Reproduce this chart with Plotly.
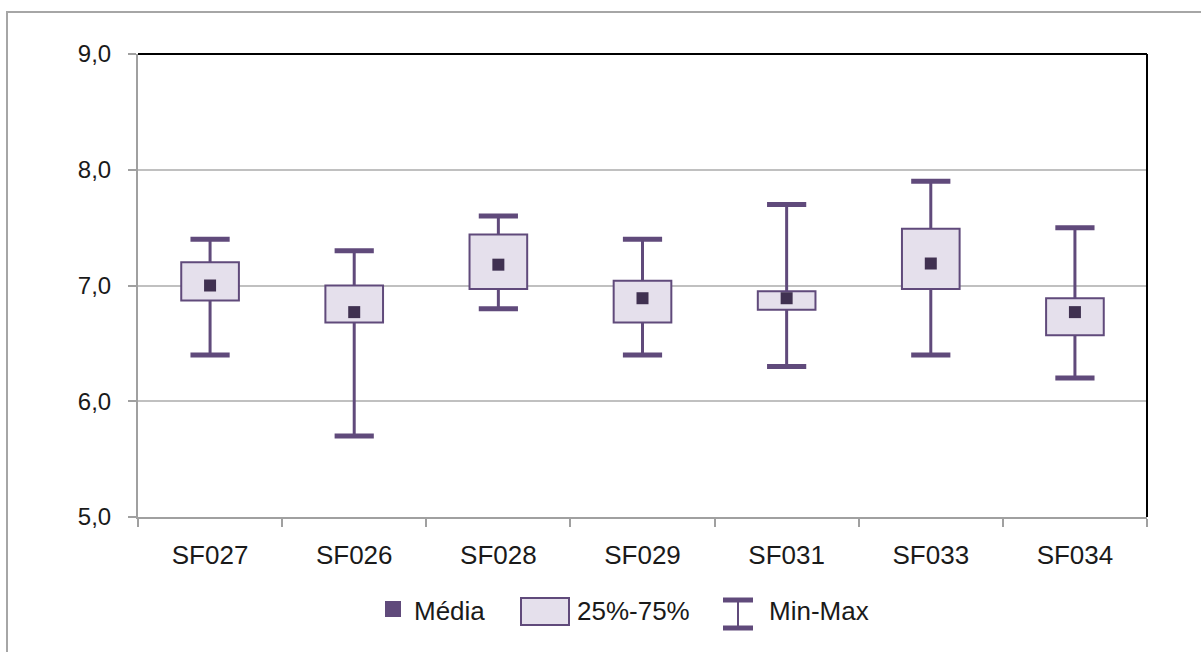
import plotly.graph_objects as go

# Sample statistics per site
sites = ["SF027", "SF026", "SF028", "SF029", "SF031", "SF033", "SF034"]
minimum = [6.4, 5.7, 6.8, 6.4, 6.3, 6.4, 6.2]
q25 = [6.87, 6.68, 6.97, 6.68, 6.79, 6.97, 6.57]
q75 = [7.2, 7.0, 7.44, 7.04, 6.95, 7.49, 6.89]
maximum = [7.4, 7.3, 7.6, 7.4, 7.7, 7.9, 7.5]
mean = [7.0, 6.77, 7.18, 6.89, 6.89, 7.19, 6.77]

y_ticks = [5.0, 6.0, 7.0, 8.0, 9.0]

PURPLE = "#604a7b"
DARK = "#403151"
LAVENDER = "#e5e0ec"
FONT = "Liberation Sans, Arial, sans-serif"
TXT = "#1a1a1a"

W, H = 1201, 652
L, R, T, B = 138, 54, 54, 135
PW, PH = W - L - R, H - T - B


def px(x):
    return (x - L) / PW


def py(y):
    return (H - B - y) / PH


fig = go.Figure()

# Interquartile boxes
fig.add_trace(go.Bar(
    x=sites,
    y=[hi - lo for lo, hi in zip(q25, q75)],
    base=q25,
    width=0.4,
    marker=dict(color=LAVENDER, line=dict(color=PURPLE, width=2)),
    showlegend=False,
    hoverinfo="skip",
))

# Whisker stems (max -> box top, box bottom -> min)
wx, wy = [], []
for s, lo, q1, q3, hi in zip(sites, minimum, q25, q75, maximum):
    wx += [s, s, None, s, s, None]
    wy += [hi, q3, None, q1, lo, None]
fig.add_trace(go.Scatter(
    x=wx, y=wy, mode="lines",
    line=dict(color=PURPLE, width=3),
    showlegend=False, hoverinfo="skip",
))

# Whisker caps
fig.add_trace(go.Scatter(
    x=sites + sites,
    y=maximum + minimum,
    mode="markers",
    marker=dict(symbol="line-ew", size=28, line=dict(color=PURPLE, width=5)),
    showlegend=False, hoverinfo="skip",
))

# Means
fig.add_trace(go.Scatter(
    x=sites, y=mean, mode="markers",
    marker=dict(symbol="square", size=12, color=DARK),
    showlegend=False,
))

shapes = [
    # top and right frame of the plot area
    dict(type="line", xref="paper", yref="paper", x0=0, x1=1, y0=1, y1=1,
         line=dict(color="#000000", width=2)),
    dict(type="line", xref="paper", yref="paper", x0=1, x1=1, y0=0, y1=1,
         line=dict(color="#000000", width=2)),
    # outer chart border
    dict(type="rect", xref="paper", yref="paper",
         x0=px(7), x1=px(1260), y0=py(700), y1=py(12),
         line=dict(color="#a6a6a6", width=2), layer="below"),
    # legend: mean swatch
    dict(type="rect", xref="paper", yref="paper",
         x0=px(385), x1=px(401), y0=py(617), y1=py(601),
         fillcolor=PURPLE, line=dict(width=0)),
    # legend: box swatch
    dict(type="rect", xref="paper", yref="paper",
         x0=px(521), x1=px(569), y0=py(625), y1=py(598),
         fillcolor=LAVENDER, line=dict(color=PURPLE, width=2)),
    # legend: min-max glyph
    dict(type="line", xref="paper", yref="paper",
         x0=px(738), x1=px(738), y0=py(629), y1=py(599),
         line=dict(color=PURPLE, width=2)),
    dict(type="line", xref="paper", yref="paper",
         x0=px(723), x1=px(753), y0=py(600), y1=py(600),
         line=dict(color=PURPLE, width=5)),
    dict(type="line", xref="paper", yref="paper",
         x0=px(723), x1=px(753), y0=py(628), y1=py(628),
         line=dict(color=PURPLE, width=5)),
]

annotations = []
for text, x in [("Média", 412), ("25%-75%", 575), ("Min-Max", 767)]:
    annotations.append(dict(
        text=text, xref="paper", yref="paper", x=px(x), y=py(611),
        xanchor="left", yanchor="middle", showarrow=False,
        font=dict(family=FONT, size=26, color=TXT),
    ))

fig.update_layout(
    width=W, height=H,
    margin=dict(l=L, r=R, t=T, b=B, pad=0),
    paper_bgcolor="white", plot_bgcolor="white",
    separators=",.",
    showlegend=False,
    font=dict(family=FONT, size=24, color=TXT),
    shapes=shapes,
    annotations=annotations,
)

fig.update_xaxes(
    type="category",
    showline=True, linecolor="#a0a0a0", linewidth=2,
    ticks="outside", tickson="boundaries", ticklen=8, tickcolor="#a0a0a0", tickwidth=2,
    ticklabelstandoff=14,
    showgrid=False, zeroline=False,
    tickfont=dict(family=FONT, size=26, color=TXT),
)
fig.update_yaxes(
    range=[5, 9],
    tickvals=y_ticks, tickformat=".1f",
    showline=True, linecolor="#a0a0a0", linewidth=2,
    ticks="outside", ticklen=8, tickcolor="#a0a0a0", tickwidth=2,
    ticklabelstandoff=12,
    showgrid=True, gridcolor="#c0c0c0", gridwidth=2,
    zeroline=False,
    tickfont=dict(family=FONT, size=24, color=TXT),
)

fig.write_html("out.html")
